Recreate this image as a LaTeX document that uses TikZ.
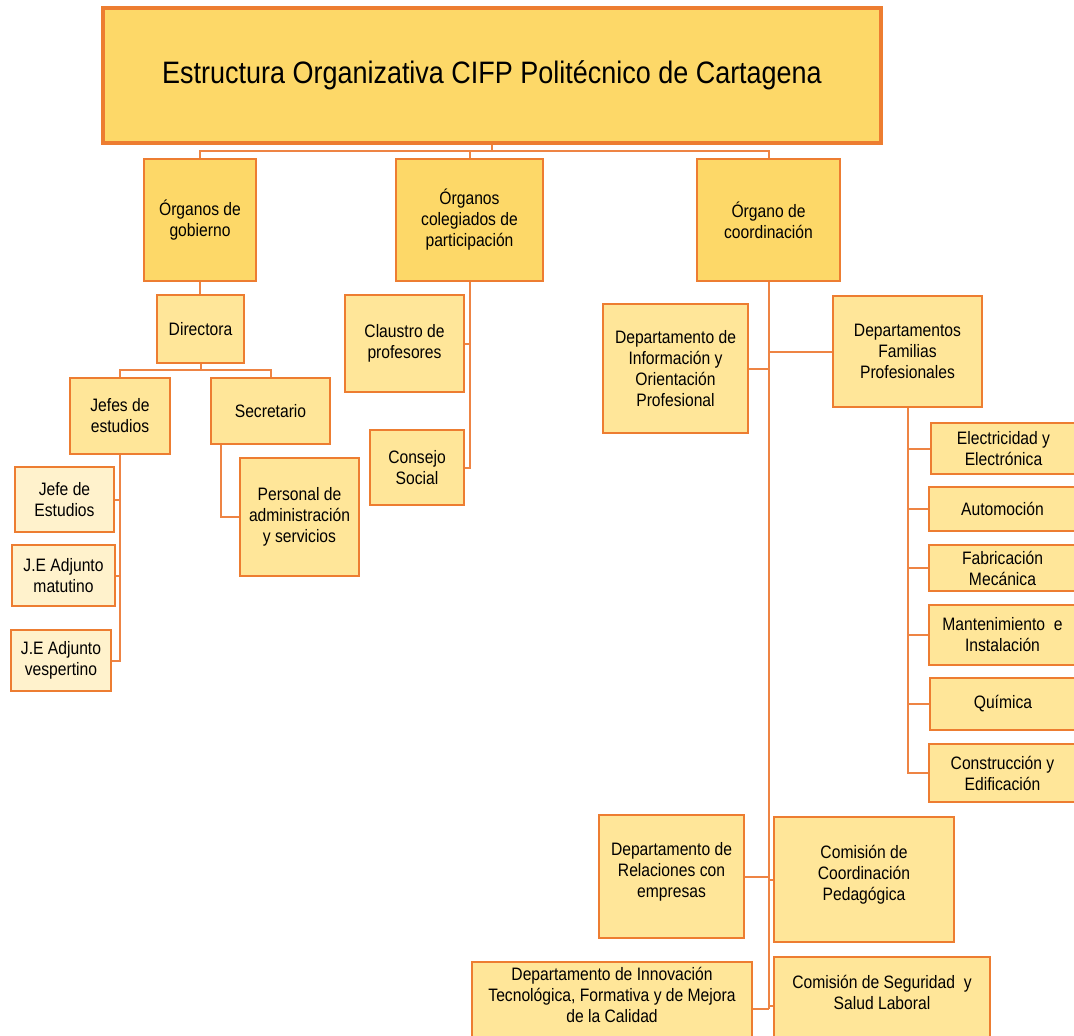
\documentclass[tikz,border=0pt]{standalone}
\usepackage{fontspec}
\setmainfont{Liberation Sans}[FakeStretch=0.87]
\definecolor{fillA}{HTML}{FDD868}
\definecolor{fillB}{HTML}{FFE699}
\definecolor{fillC}{HTML}{FFF2CC}
\definecolor{bord}{HTML}{ED7D31}
\definecolor{lineor}{HTML}{EE8444}
\newcommand{\fs}{\fontsize{18}{21}\selectfont}
\newcommand{\bx}[7]{\node[#2, minimum width={#5-#3}, minimum height={#6-#4}] (#1) at ({(#3+#5)/2},{(#4+#6)/2}) {#7};}
\newcommand{\bxl}[8]{\node[#2, minimum width={#5-#3}, minimum height={#6-#4}, label={[lbltext,yshift=#8pt]center:{#7}}] (#1) at ({(#3+#5)/2},{(#4+#6)/2}) {};}
\tikzset{
  boxA/.style={draw=bord, fill=fillA, line width=2.5pt, inner sep=0pt, align=center, font=\fs},
  boxB/.style={boxA, fill=fillB},
  boxC/.style={boxA, fill=fillC, line width=2pt},
  titlebox/.style={boxA, line width=3.5pt, font=\fontsize{31}{37}\selectfont},
  lbltext/.style={align=center, font=\fs, inner sep=0pt},
  conn/.style={draw=lineor, line width=2pt},
}
\begin{document}
\begin{tikzpicture}[x=1pt,y=-1pt]
\useasboundingbox (0,0) rectangle (1074,1036);
\fill[white] (0,0) rectangle (1074,1036);
\clip (0,0) rectangle (1074,1036);
% boxes
\bx{title}{titlebox}{103}{8}{881}{143}{Estructura Organizativa CIFP Politécnico de Cartagena}
\bx{gob}{boxA}{144}{159}{256}{281}{Órganos de\\gobierno}
\bx{coleg}{boxA}{396}{159}{543}{281}{Órganos\\colegiados de\\participación}
\bx{coord}{boxA}{697}{159}{840}{281}{Órgano de\\coordinación}
\bx{dir}{boxB}{157}{295}{244}{363}{Directora}
\bx{jefes}{boxB}{70}{378}{170}{454}{Jefes de\\estudios}
\bx{sec}{boxB}{211}{378}{330}{444}{Secretario}
\bx{je1}{boxC}{15}{467}{114}{532}{Jefe de\\Estudios}
\bx{je2}{boxC}{12}{545}{115}{606}{J.E Adjunto\\matutino}
\bx{je3}{boxC}{11}{630}{111}{691}{J.E Adjunto\\vespertino}
\bx{pers}{boxB}{240}{458}{359}{576}{Personal de\\administración\\y servicios}
\bx{claus}{boxB}{345}{295}{464}{392}{Claustro de\\profesores}
\bx{consejo}{boxB}{370}{430}{464}{505}{Consejo\\Social}
\bx{info}{boxB}{603}{304}{748}{433}{Departamento de\\Información y\\Orientación\\Profesional}
\bx{fam}{boxB}{833}{296}{982}{407}{Departamentos\\Familias\\Profesionales}
\bx{f1}{boxB}{931}{423}{1076}{474}{Electricidad y\\Electrónica}
\bx{f2}{boxB}{929}{487}{1076}{531}{Automoción}
\bx{f3}{boxB}{929}{545}{1076}{591}{Fabricación\\Mecánica}
\bx{f4}{boxB}{929}{605}{1076}{665}{Mantenimiento\ \ e\\Instalación}
\bx{f5}{boxB}{930}{678}{1076}{730}{Química}
\bx{f6}{boxB}{929}{744}{1076}{802}{Construcción y\\Edificación}
\bxl{relac}{boxB}{599}{815}{744}{938}{Departamento de\\Relaciones con\\empresas}{5}
\bxl{comcp}{boxB}{774}{817}{954}{942}{Comisión de\\Coordinación\\Pedagógica}{5}
\bxl{innov}{boxB}{472}{962}{752}{1056}{Departamento de Innovación\\Tecnológica, Formativa y de Mejora\\de la Calidad}{14}
\bxl{segur}{boxB}{774}{957}{990}{1055}{Comisión de Seguridad\ \ y\\Salud Laboral}{14}
% connectors
\coordinate (bus) at (492,151);
\coordinate (dbus) at (200,370);
\draw[conn] (title.south) -- (bus);
\draw[conn] (gob.north) |- (bus) -| (coord.north);
\draw[conn] (coleg.north) -- (coleg.north |- bus);
\draw[conn] (gob.south) -- (gob.south |- dir.north);
\draw[conn] (dir.south) -- (dir.south |- dbus);
\draw[conn] (jefes.north) |- (dbus) -| (sec.north);
\draw[conn] (jefes.south) |- (je1.east);
\draw[conn] (jefes.south) |- (je2.east);
\draw[conn] (jefes.south) |- (je3.east);
\draw[conn] ([xshift=11pt]sec.south west) |- (pers.west);
\draw[conn] (coleg.south) |- (claus.east);
\draw[conn] (coleg.south) |- (consejo.east);
\draw[conn] (coord.south) -- (coord.south |- innov.east);
\draw[conn] (info.east) -- (info.east -| coord.south);
\draw[conn] (fam.west) -- (fam.west -| coord.south);
\draw[conn] (relac.east) -- (relac.east -| coord.south);
\draw[conn] (comcp.west) -- (comcp.west -| coord.south);
\draw[conn] (innov.east) -- (innov.east -| coord.south);
\draw[conn] (segur.west) -- (segur.west -| coord.south);
\draw[conn] (fam.south) |- (f6.west);
\draw[conn] (fam.south |- f1.west) -- (f1.west);
\draw[conn] (fam.south |- f2.west) -- (f2.west);
\draw[conn] (fam.south |- f3.west) -- (f3.west);
\draw[conn] (fam.south |- f4.west) -- (f4.west);
\draw[conn] (fam.south |- f5.west) -- (f5.west);
\end{tikzpicture}
\end{document}
